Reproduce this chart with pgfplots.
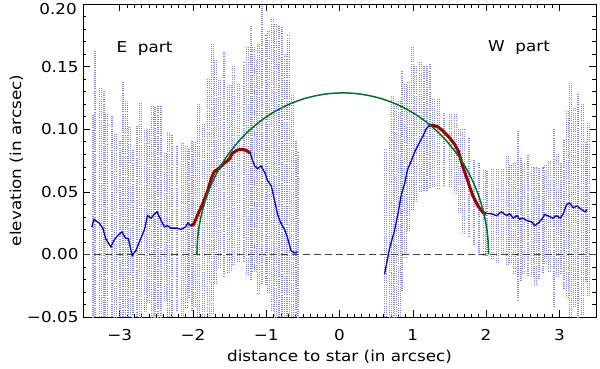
\documentclass[border=0pt]{standalone}
\usepackage{pgfplots}
\usepackage{pgfplotstable}
\usepackage{fontspec}
\setmainfont{DejaVu Sans}[FakeStretch=1.12]
\pgfplotsset{compat=1.18}

\definecolor{errcol}{RGB}{135,135,228}
\definecolor{linecol}{RGB}{0,0,225}
\definecolor{fitcol}{RGB}{0,115,40}
\definecolor{redcol}{RGB}{160,0,0}

% E part: x, y, error plus, error minus
\pgfplotstableread{
x y ep em
-3.38 0.022 0.090 0.090
-3.35 0.028 0.135 0.135
-3.28 0.025 0.108 0.108
-3.23 0.021 0.110 0.110
-3.19 0.0125 0.100 0.100
-3.12 0.006 0.105 0.105
-3.07 0.012 0.085 0.085
-3.01 0.016 0.075 0.075
-2.97 0.018 0.120 0.120
-2.92 0.013 0.110 0.110
-2.88 0.0125 0.090 0.090
-2.83 -0.001 0.085 0.085
-2.78 0.003 0.100 0.100
-2.73 0.010 0.111 0.111
-2.66 0.020 0.080 0.066
-2.62 0.031 0.070 0.070
-2.57 0.029 0.090 0.090
-2.53 0.032 0.087 0.087
-2.49 0.034 0.085 0.085
-2.45 0.029 0.090 0.090
-2.39 0.022 0.060 0.060
-2.35 0.023 0.075 0.075
-2.30 0.021 0.074 0.074
-2.23 0.021 0.066 0.066
-2.16 0.020 0.070 0.070
-2.10 0.022 0.065 0.065
-2.07 0.025 0.060 0.060
-2.03 0.023 0.068 0.068
-1.99 0.024 0.067 0.067
-1.94 0.031 0.090 0.090
-1.87 0.040 0.065 0.100
-1.80 0.0506 0.090 0.100
-1.75 0.0605 0.108 0.108
-1.71 0.066 0.090 0.090
-1.65 0.0685 0.072 0.080
-1.59 0.072 0.090 0.090
-1.53 0.0747 0.060 0.090
-1.50 0.0765 0.059 0.090
-1.46 0.081 0.070 0.090
-1.39 0.0834 0.053 0.090
-1.32 0.084 0.070 0.090
-1.27 0.083 0.083 0.100
-1.22 0.081 0.102 0.102
-1.19 0.076 0.090 0.090
-1.16 0.0707 0.085 0.085
-1.12 0.0685 0.100 0.100
-1.07 0.0707 0.135 0.095
-1.02 0.0653 0.110 0.090
-0.98 0.0587 0.120 0.090
-0.93 0.0547 0.134 0.100
-0.89 0.044 0.140 0.120
-0.84 0.031 0.152 0.140
-0.80 0.025 0.157 0.150
-0.75 0.020 0.140 0.140
-0.71 0.0133 0.162 0.150
-0.66 0.0027 0.125 0.125
-0.61 0.0013 0.090 0.090
-0.58 0.002 0.080 0.080
}\Etab

% W part
\pgfplotstableread{
x y ep em
0.615 -0.0157 0.100 0.100
0.68 0.004 0.090 0.090
0.71 0.0107 0.116 0.116
0.75 0.0187 0.100 0.100
0.80 0.033 0.090 0.090
0.84 0.0467 0.100 0.076
0.89 0.057 0.080 0.060
0.93 0.068 0.070 0.050
0.98 0.0747 0.092 0.040
1.02 0.081 0.070 0.040
1.09 0.0893 0.065 0.040
1.14 0.0947 0.057 0.045
1.18 0.100 0.052 0.050
1.22 0.1027 0.050 0.050
1.27 0.1032 0.021 0.050
1.34 0.102 0.022 0.050
1.41 0.0987 0.015 0.045
1.50 0.0933 0.020 0.040
1.57 0.088 0.025 0.040
1.62 0.0827 0.018 0.050
1.68 0.0707 0.030 0.055
1.75 0.0587 0.035 0.045
1.82 0.0467 0.030 0.040
1.89 0.0387 0.035 0.040
1.96 0.0333 0.035 0.035
2.00 0.0328 0.035 0.035
2.07 0.0325 0.036 0.036
2.14 0.031 0.037 0.037
2.21 0.034 0.035 0.035
2.28 0.031 0.048 0.040
2.32 0.0325 0.040 0.040
2.37 0.029 0.045 0.045
2.42 0.031 0.068 0.068
2.46 0.028 0.050 0.050
2.50 0.029 0.045 0.045
2.56 0.027 0.053 0.045
2.62 0.026 0.045 0.045
2.66 0.023 0.047 0.047
2.71 0.025 0.045 0.045
2.76 0.028 0.042 0.042
2.80 0.032 0.040 0.040
2.85 0.0307 0.045 0.045
2.91 0.029 0.071 0.071
2.96 0.031 0.050 0.050
3.01 0.029 0.045 0.045
3.05 0.032 0.060 0.060
3.10 0.040 0.075 0.075
3.14 0.041 0.097 0.097
3.19 0.0373 0.080 0.080
3.24 0.0387 0.090 0.090
3.30 0.036 0.085 0.085
3.35 0.034 0.056 0.056
3.38 0.036 0.070 0.070
}\Wtab

% fitted ellipse
\pgfplotstableread{
x y
-1.945 0
-1.942 0.00675
-1.934 0.0135
-1.915 0.0224
-1.877 0.0334
-1.825 0.0441
-1.759 0.0545
-1.678 0.0645
-1.585 0.0740
-1.479 0.0829
-1.362 0.0912
-1.234 0.0988
-1.096 0.1057
-0.950 0.1117
-0.796 0.1169
-0.636 0.1212
-0.470 0.1246
-0.300 0.1270
-0.129 0.1285
0.045 0.129
0.219 0.1285
0.390 0.1270
0.560 0.1246
0.726 0.1212
0.886 0.1169
1.040 0.1117
1.186 0.1057
1.324 0.0988
1.452 0.0912
1.569 0.0829
1.675 0.0740
1.768 0.0645
1.849 0.0545
1.915 0.0441
1.967 0.0334
2.005 0.0224
2.024 0.0135
2.032 0.00675
2.035 0
}\Fit

\begin{document}
\begin{tikzpicture}
\path[use as bounding box] (-83pt,-51pt) rectangle (517pt,317pt);
\begin{axis}[
    at={(0,0)}, anchor=south west,
    scale only axis,
    width=513pt, height=313pt,
    clip mode=individual,
    xmin=-3.5, xmax=3.5,
    ymin=-0.05, ymax=0.2,
    xtick={-3,-2,...,3},
    xticklabels={−3,−2,−1,0,1,2,3},
    ytick={-0.05,0,0.05,0.1,0.15,0.2},
    yticklabels={−0.05,0.00,0.05,0.10,0.15,{}},
    minor x tick num=9,
    minor y tick num=4,
    tick align=inside,
    major tick length=7pt,
    minor tick length=3.5pt,
    axis line style={line width=0.6pt},
    every tick/.style={line width=0.5pt, black},
    tick label style={font=\fontsize{15}{17}\selectfont},
    xticklabel style={yshift=-9pt},
    yticklabel style={xshift=-1pt},
    label style={font=\fontsize{15}{17}\selectfont},
    xlabel={distance to star (in arcsec)},
    ylabel={elevation (in arcsec)},
    xlabel style={yshift=-2pt},
    ylabel style={yshift=-3pt},
]
% error bars (two passes, one shifted by a step, for the dense columns)
\addplot[draw=none, mark=none, forget plot,
    error bars/.cd, y dir=both, y explicit, error mark=none,
    error bar style={errcol, line width=0.45pt, dash pattern=on 0.7pt off 1.4pt}]
    table[x=x, y=y, y error plus=ep, y error minus=em] {\Etab};
\addplot[draw=none, mark=none, forget plot,
    error bars/.cd, y dir=both, y explicit, error mark=none,
    error bar style={errcol, line width=0.45pt, dash pattern=on 0.7pt off 1.4pt}]
    table[x expr=\thisrow{x}+0.022, y=y, y error plus=ep, y error minus=em] {\Etab};
\addplot[draw=none, mark=none, forget plot,
    error bars/.cd, y dir=both, y explicit, error mark=none,
    error bar style={errcol, line width=0.45pt, dash pattern=on 0.7pt off 1.4pt}]
    table[x=x, y=y, y error plus=ep, y error minus=em] {\Wtab};
\addplot[draw=none, mark=none, forget plot,
    error bars/.cd, y dir=both, y explicit, error mark=none,
    error bar style={errcol, line width=0.45pt, dash pattern=on 0.7pt off 1.4pt}]
    table[x expr=\thisrow{x}+0.022, y=y, y error plus=ep, y error minus=em] {\Wtab};

% zero line
\addplot[black!75, line width=0.5pt, dash pattern=on 7pt off 4pt] coordinates {(-3.5,0) (3.5,0)};

% profiles
\addplot[linecol, line width=1.3pt, mark=none] table[x=x, y=y] {\Etab};
\addplot[linecol, line width=1.3pt, mark=none] table[x=x, y=y] {\Wtab};

% red segments
\addplot[redcol, line width=3pt, mark=none, restrict x to domain=-2.04:-1.21] table[x=x, y=y] {\Etab};
\addplot[redcol, line width=3pt, mark=none, restrict x to domain=1.21:2.01] table[x=x, y=y] {\Wtab};

% fit
\addplot[fitcol, line width=1.5pt, mark=none, smooth] table[x=x, y=y] {\Fit};

\node[font=\fontsize{15}{17}\selectfont] at (axis cs:-2.66,0.164) {E\ \ part};
\node[font=\fontsize{15}{17}\selectfont] at (axis cs:2.45,0.165) {W\ \ part};
% top tick label, set a little lower so that it stays inside the page
\node[font=\fontsize{15}{17}\selectfont, anchor=north east, inner sep=0pt]
    at ([xshift=-6pt, yshift=1pt]rel axis cs:0,1) {0.20};
\end{axis}
\end{tikzpicture}
\end{document}
